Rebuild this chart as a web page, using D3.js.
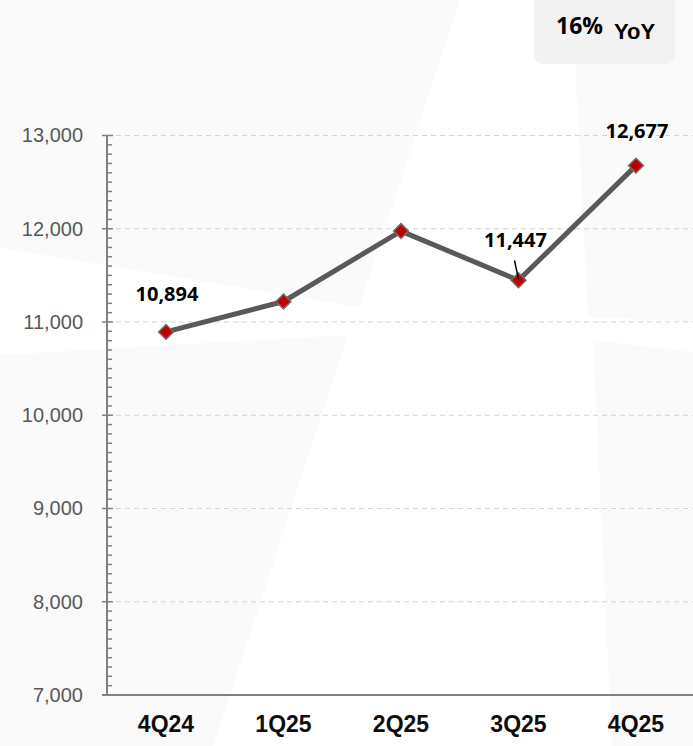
<!DOCTYPE html>
<meta charset="utf-8">
<style>
body {
  margin: 0;
  background: #fff;
}
.ytick text {
  font: 20px "Liberation Sans", Arial, sans-serif;
  fill: #595959;
}
.xlabel {
  font: bold 23px "Liberation Sans", Arial, sans-serif;
  fill: #0d0d0d;
}
.dlabel {
  font: bold 20px "Open Sans", sans-serif;
  fill: #000;
}
</style>
<body>
<script src="https://d3js.org/d3.v7.min.js"></script>
<script>

var quarters = ["4Q24", "1Q25", "2Q25", "3Q25", "4Q25"];
var values = [10894, 11220, 11975, 11447, 12677];
var labelled = ["4Q24", "3Q25", "4Q25"];
var yTicks = [7000, 8000, 9000, 10000, 11000, 12000, 13000];
var yoyText = "16%";

var width = 693,
    height = 746;

var svg = d3.select("body").append("svg")
    .attr("width", width)
    .attr("height", height);

// faint background shapes
var bg = svg.append("g").attr("fill", "#fafafa");
[
  [[0, 0], [460, 0], [359, 307], [0, 248]],
  [[0, 355], [348, 335], [213, 746], [0, 746]],
  [[572, 0], [693, 0], [693, 322], [588, 317]],
  [[593, 340], [693, 352], [693, 746], [612, 746]]
].forEach(function(p) {
  bg.append("polygon").attr("points", p.join(" "));
});

// YoY badge
svg.append("rect")
    .attr("x", 534).attr("y", -10)
    .attr("width", 141).attr("height", 74)
    .attr("rx", 9)
    .attr("fill", "#f2f2f2");
svg.append("text")
    .attr("x", 556).attr("y", 34)
    .style("font", "bold 23px 'Open Sans', sans-serif")
    .text(yoyText);
svg.append("text")
    .attr("x", 614).attr("y", 39)
    .style("font", "bold 22px 'Liberation Sans', Arial, sans-serif")
    .text("YoY");

var x = d3.scalePoint()
    .domain(quarters)
    .range([166, 636]);

var y = d3.scaleLinear()
    .domain([7000, 13000])
    .range([695, 135.5]);

var left = 107;

// gridlines
svg.append("g")
  .selectAll("line")
  .data(yTicks.slice(1))
  .enter().append("line")
    .attr("x1", left).attr("x2", width)
    .attr("y1", d => y(d)).attr("y2", d => y(d))
    .attr("stroke", "#d4d4d4")
    .attr("stroke-width", 1)
    .attr("stroke-dasharray", "5,4");

// minor ticks
svg.append("g")
  .selectAll("line")
  .data(d3.range(7100, 13000, 100).filter(d => d % 1000 !== 0))
  .enter().append("line")
    .attr("x1", left).attr("x2", left + 5)
    .attr("y1", d => y(d)).attr("y2", d => y(d))
    .attr("stroke", "#808080")
    .attr("stroke-width", 1.5);

// y axis
var yAxis = d3.axisLeft(y)
    .tickValues(yTicks)
    .tickFormat(d3.format(","))
    .tickSize(0)
    .tickPadding(24);

var gy = svg.append("g")
    .attr("class", "ytick")
    .attr("transform", `translate(${left},0)`)
    .call(yAxis);
gy.select(".domain").remove();
gy.selectAll("text").attr("dy", "0.32em");

svg.append("g")
  .selectAll("line")
  .data(yTicks)
  .enter().append("line")
    .attr("x1", left - 5).attr("x2", left + 6)
    .attr("y1", d => y(d)).attr("y2", d => y(d))
    .attr("stroke", "#808080")
    .attr("stroke-width", 1.5);

svg.append("line")
    .attr("x1", left).attr("x2", left)
    .attr("y1", y(13000)).attr("y2", y(7000))
    .attr("stroke", "#808080")
    .attr("stroke-width", 2);

svg.append("line")
    .attr("x1", 102).attr("x2", width)
    .attr("y1", y(7000)).attr("y2", y(7000))
    .attr("stroke", "#808080")
    .attr("stroke-width", 2);

// x labels
svg.append("g")
  .selectAll("text")
  .data(quarters)
  .enter().append("text")
    .attr("class", "xlabel")
    .attr("x", d => x(d))
    .attr("y", 732)
    .attr("text-anchor", "middle")
    .text(d => d);

var data = quarters.map((q, i) => ({q: q, v: values[i]}));

var line = d3.line()
    .x(d => x(d.q))
    .y(d => y(d.v));

svg.append("path")
    .datum(data)
    .attr("d", line)
    .attr("fill", "none")
    .attr("stroke", "#595959")
    .attr("stroke-width", 5)
    .attr("stroke-linejoin", "round");

svg.append("g")
  .selectAll("path")
  .data(data)
  .enter().append("path")
    .attr("d", d3.symbol().type(d3.symbolSquare).size(110))
    .attr("transform", d => `translate(${x(d.q)},${y(d.v)}) rotate(45)`)
    .attr("fill", "#c00000")
    .attr("stroke", "#6e6e6e")
    .attr("stroke-width", 1.5);

// data labels
var offsets = {"4Q24": [1, -31], "3Q25": [-3, -33], "4Q25": [1, -28]};
var fmt = d3.format(",");

svg.append("g")
  .selectAll("text")
  .data(data.filter(d => labelled.includes(d.q)))
  .enter().append("text")
    .attr("class", "dlabel")
    .attr("x", d => x(d.q) + offsets[d.q][0])
    .attr("y", d => y(d.v) + offsets[d.q][1])
    .attr("text-anchor", "middle")
    .text(d => fmt(d.v));

// leader line for 3Q25
var p3 = data[3];
svg.append("line")
    .attr("x1", x(p3.q) - 4).attr("y1", y(p3.v) - 20)
    .attr("x2", x(p3.q)).attr("y2", y(p3.v) - 1)
    .attr("stroke", "#000")
    .attr("stroke-width", 1.5);

</script>
